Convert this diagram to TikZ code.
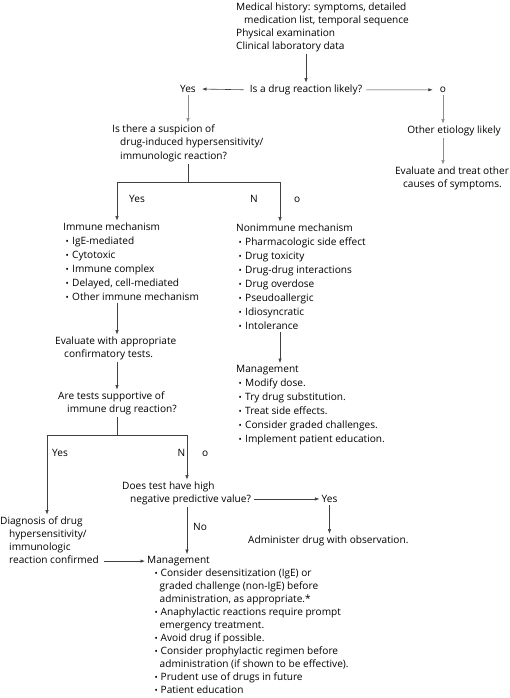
\documentclass[tikz,border=0pt]{standalone}
\usepackage{fontspec}
\setmainfont{Open Sans}
\usepackage{graphicx}
\usetikzlibrary{arrows.meta}
\newcommand\bulA{\hspace*{2.5pt}\makebox[6.5pt][l]{\raisebox{0.3pt}{\scalebox{0.85}{•}}}}
\newcommand\bulB{\hspace*{7.5pt}\makebox[6pt][l]{\raisebox{0.3pt}{\scalebox{0.85}{•}}}}
\newcommand\contB{\hspace*{12.5pt}}
\begin{document}
\begin{tikzpicture}[x=1pt,y=-1pt,
  txt/.style={inner xsep=0pt, inner ysep=2pt, font=\fontsize{10.1}{13}\selectfont, align=left},
  txtm/.style={txt, font=\fontsize{10.1}{13.5}\selectfont},
  lst/.style={txt, font=\fontsize{10.1}{14}\selectfont},
  ln/.style={draw=black!75, line width=0.6pt},
  arr/.style={ln, -{Latex[length=4.5pt,width=3.4pt]}},
  lt/.style={draw=black!45}]
\useasboundingbox (0,0) rectangle (510,698);

% top
\node[txt,anchor=base west] (hist) at (236,49.5) {Medical history: symptoms, detailed\\\hspace*{8pt}medication list, temporal sequence\\Physical examination\\Clinical laboratory data};
\node[txt,anchor=base] (q1) at (306,92.5) {Is a drug reaction likely?};
\node[txt,anchor=base east] (yes1) at (196,92.5) {Yes};
\node[txt,anchor=base] (o1) at (443,92.5) {o};
\draw[arr] (hist.south -| q1.north) -- (q1.north);
\draw[arr, shorten <=6pt, shorten >=6pt] (q1.west) -- (yes1.east);
\draw[arr, shorten <=4pt, shorten >=7pt] (q1.east) -- (o1.west);

\node[txtm,anchor=base west] (q2) at (112,159.5) {Is there a suspicion of\\\hspace*{8pt}drug-induced hypersensitivity/\\\hspace*{8pt}immunologic reaction?};
\draw[arr,lt] (yes1.south) -- (yes1.south |- q2.north);

\node[txt,anchor=base] (oth) at (454,133.5) {Other etiology likely};
\node[txt,anchor=base] (evl) at (452,187.5) {Evaluate and treat other\\\hspace*{8pt}causes of symptoms.};
\draw[arr,lt] (o1.south) -- (o1.south |- oth.north);
\draw[arr,lt] (o1.south |- oth.south) -- (o1.south |- evl.north);

% first branch
\coordinate (j1) at (188,182);
\coordinate (j1L) at (117,182);
\coordinate (j1R) at (280,182);
\node[lst,anchor=base west] (imm) at (63,300.5) {Immune mechanism\\\bulA IgE-mediated\\\bulA Cytotoxic\\\bulA Immune complex\\\bulA Delayed, cell-mediated\\\bulA Other immune mechanism};
\node[lst,anchor=base west] (non) at (236,329.5) {Nonimmune mechanism\\\bulA Pharmacologic side effect\\\bulA Drug toxicity\\\bulA Drug-drug interactions\\\bulA Drug overdose\\\bulA Pseudoallergic\\\bulA Idiosyncratic\\\bulA Intolerance};
\draw[ln] (q2.south -| j1) -- (j1);
\draw[arr] (j1) -- (j1L) -- (j1L |- imm.north);
\draw[arr] (j1) -- (j1R) -- (j1R |- non.north);
\node[txt,anchor=base west] (yes2) at (129,202.5) {Yes};
\node[txt,anchor=base west] (n2) at (250,202.5) {N};
\node[txt,anchor=base west] (o2) at (294,202.5) {o};

\node[lst,anchor=base west] (mg1) at (236,442.5) {Management\\\bulA Modify dose.\\\bulA Try drug substitution.\\\bulA Treat side effects.\\\bulA Consider graded challenges.\\\bulA Implement patient education.};
\draw[arr] (non.south -| j1R) -- (j1R |- mg1.north);

\node[txt,anchor=base west] (ev) at (55,357.5) {Evaluate with appropriate\\\hspace*{9pt}confirmatory tests.};
\draw[arr] (imm.south -| j1L) -- (j1L |- ev.north);
\node[txt,anchor=base west] (q3) at (58,412.5) {Are tests supportive of\\\hspace*{9pt}immune drug reaction?};
\draw[arr] (ev.south -| j1L) -- (j1L |- q3.north);

% second branch
\coordinate (j2) at (117,435);
\coordinate (j2L) at (47,435);
\coordinate (j2R) at (187,435);
\node[txt,anchor=base west] (diag) at (0,563.5) {Diagnosis of drug\\\hspace*{9pt}hypersensitivity/\\\hspace*{9pt}immunologic\\\hspace*{9pt}reaction confirmed};
\node[txt,anchor=base west] (q4) at (122,502.5) {Does test have high\\\hspace*{8pt}negative predictive value?};
\draw[ln] (q3.south -| j2) -- (j2);
\draw[arr] (j2) -- (j2L) -- (j2L |- diag.north);
\draw[arr] (j2) -- (j2R) -- (j2R |- q4.north);
\node[txt,anchor=base west] (yes3) at (52,456.5) {Yes};
\node[txt,anchor=base east] (n3) at (185.5,456.5) {N};
\node[txt,anchor=base west] (o3) at (202,456.5) {o};

\node[txt,anchor=base] (yes4) at (329.5,502.5) {Yes};
\node[txt,anchor=base west] (adm) at (248,543.5) {Administer drug with observation.};
\draw[arr, shorten <=3pt, shorten >=2pt] (q4.east |- yes4) -- (yes4.west);
\draw[arr] (yes4.south) -- (yes4.south |- adm.north);

\node[txt,anchor=base west] (mgh) at (147,563.5) {Management};
\node[txt,anchor=base west] (mgl) at (147,693.5) {\bulB Consider desensitization (IgE) or\\\contB graded challenge (non-IgE) before\\\contB administration, as appropriate.*\\\bulB Anaphylactic reactions require prompt\\\contB emergency treatment.\\\bulB Avoid drug if possible.\\\bulB Consider prophylactic regimen before\\\contB administration (if shown to be effective).\\\bulB Prudent use of drugs in future\\\bulB Patient education};
\node[txt,anchor=base west] (no4) at (193,530.5) {No};
\draw[arr] (q4.south -| j2R) -- (j2R |- mgh.north);
\draw[arr, shorten <=5pt, shorten >=2pt] (diag.east |- mgh.west) -- (mgh.west);
\end{tikzpicture}
\end{document}
